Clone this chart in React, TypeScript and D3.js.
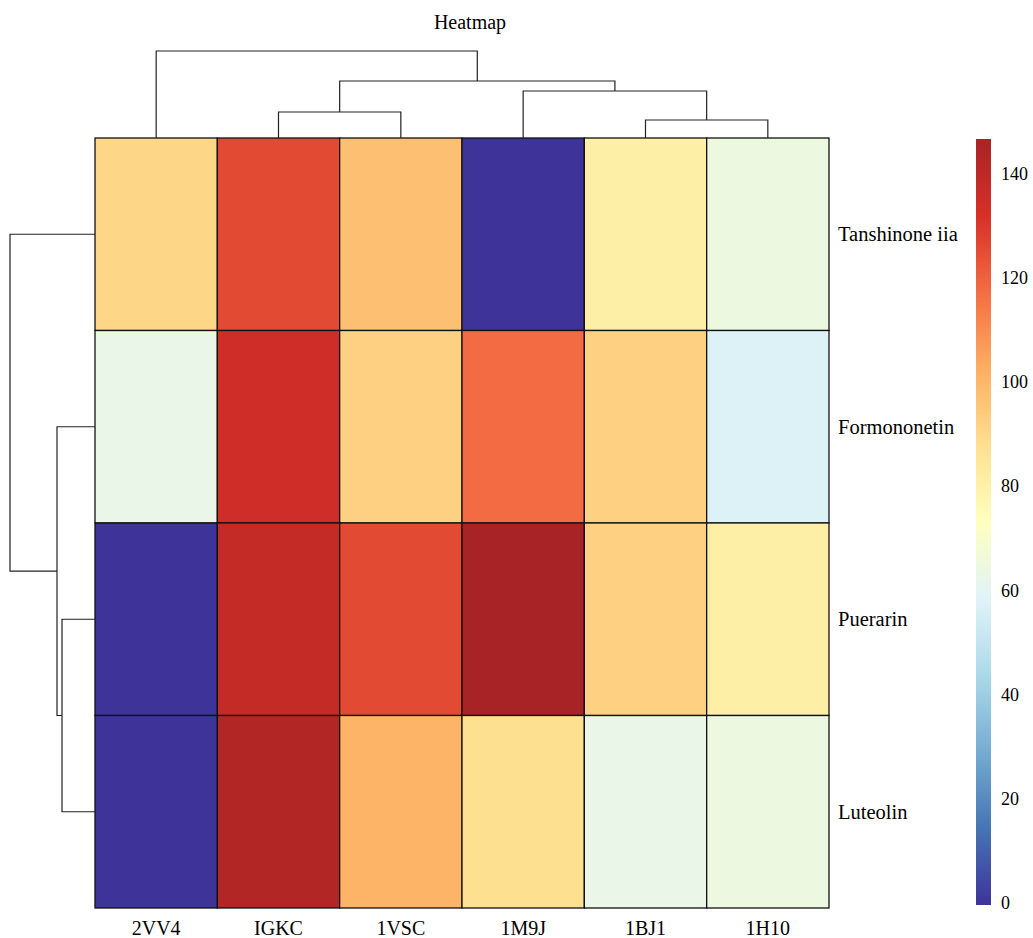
import React, { useEffect, useRef } from 'react';
import * as d3 from 'd3';

const columns = ['2VV4', 'IGKC', '1VSC', '1M9J', '1BJ1', '1H10'];
const rows = ['Tanshinone iia', 'Formononetin', 'Puerarin', 'Luteolin'];

// values by row, in column order
const tanshinone = [91, 126, 98, 0, 81, 65];
const formononetin = [63, 135, 93, 118, 93, 58];
const puerarin = [0, 138, 126, 147, 93, 81];
const luteolin = [0, 144, 101, 88, 63, 65];
const values = [tanshinone, formononetin, puerarin, luteolin];

const colorTicks = [0, 20, 40, 60, 80, 100, 120, 140];
const palette = ['#3e3399', '#4575b4', '#74add1', '#abd9e9', '#e0f3f8', '#ffffbf',
  '#fee090', '#fdae61', '#f46d43', '#d73027', '#a82325'];

interface TreeNode {
  name?: string;
  h: number;
  children?: TreeNode[];
}

// clustering trees (merge heights)
const colTree: TreeNode = {
  h: 87,
  children: [
    { name: '2VV4', h: 0 },
    {
      h: 57,
      children: [
        { h: 26, children: [{ name: 'IGKC', h: 0 }, { name: '1VSC', h: 0 }] },
        {
          h: 47,
          children: [
            { name: '1M9J', h: 0 },
            { h: 18, children: [{ name: '1BJ1', h: 0 }, { name: '1H10', h: 0 }] },
          ],
        },
      ],
    },
  ],
};

const rowTree: TreeNode = {
  h: 85,
  children: [
    { name: 'Tanshinone iia', h: 0 },
    {
      h: 38,
      children: [
        { name: 'Formononetin', h: 0 },
        { h: 33, children: [{ name: 'Puerarin', h: 0 }, { name: 'Luteolin', h: 0 }] },
      ],
    },
  ],
};

const App: React.FC = () => {
  const svgRef = useRef<SVGSVGElement>(null);

  useEffect(() => {
    if (!svgRef.current) return;
    const W = 1033, H = 938;
    const left = 95, right = 829, top = 138, bottom = 908;
    const font = '"Liberation Serif", "DejaVu Serif", serif';
    const vmax = 147;

    const svg = d3.select(svgRef.current);
    svg.selectAll('*').remove();
    svg.attr('width', W).attr('height', H);

    const x = d3.scaleBand<string>().domain(columns).range([left, right]);
    const y = d3.scaleBand<string>().domain(rows).range([top, bottom]);
    const color = d3.scaleLinear<string>()
      .domain(palette.map((_, i) => (i / (palette.length - 1)) * vmax))
      .range(palette)
      .interpolate(d3.interpolateRgb);

    svg.append('text')
      .attr('x', 470).attr('y', 29)
      .attr('text-anchor', 'middle')
      .attr('font-family', font).attr('font-size', 20)
      .text('Heatmap');

    // cells
    const cells = rows.flatMap((r, i) => columns.map((c, j) => ({ r, c, v: values[i][j] })));
    svg.append('g').selectAll('rect').data(cells).join('rect')
      .attr('x', d => x(d.c)!)
      .attr('y', d => y(d.r)!)
      .attr('width', x.bandwidth())
      .attr('height', y.bandwidth())
      .attr('fill', d => color(d.v))
      .attr('stroke', '#111')
      .attr('stroke-width', 1.3);

    // dendrograms
    const drawTree = (tree: TreeNode, pos: (n: string) => number, hs: d3.ScaleLinear<number, number>, vertical: boolean) => {
      const root = d3.hierarchy<TreeNode>(tree, d => d.children);
      const p = new Map<any, number>();
      root.eachAfter(n => {
        if (n.children) p.set(n, d3.mean(n.children, c => p.get(c)!)!);
        else p.set(n, pos(n.data.name!));
      });
      const g = svg.append('g').attr('fill', 'none').attr('stroke', '#222').attr('stroke-width', 1.2);
      root.each(n => {
        if (!n.children) return;
        const [a, b] = n.children;
        const pa = p.get(a)!, pb = p.get(b)!;
        const ha = hs(a.data.h), hb = hs(b.data.h), hn = hs(n.data.h);
        const d = vertical
          ? `M${pa},${ha}V${hn}H${pb}V${hb}`
          : `M${ha},${pa}H${hn}V${pb}H${hb}`;
        g.append('path').attr('d', d);
      });
    };
    drawTree(colTree, n => x(n)! + x.bandwidth() / 2, d3.scaleLinear().domain([0, 87]).range([top, 51]), true);
    drawTree(rowTree, n => y(n)! + y.bandwidth() / 2, d3.scaleLinear().domain([0, 85]).range([left, 10]), false);

    // labels
    svg.append('g').selectAll('text').data(columns).join('text')
      .attr('x', d => x(d)! + x.bandwidth() / 2)
      .attr('y', 935)
      .attr('text-anchor', 'middle')
      .attr('font-family', font).attr('font-size', 20)
      .text(d => d);
    svg.append('g').selectAll('text').data(rows).join('text')
      .attr('x', 838)
      .attr('y', d => y(d)! + y.bandwidth() / 2)
      .attr('dy', '0.35em')
      .attr('font-family', font).attr('font-size', 20.5)
      .text(d => d);

    // colour bar
    const cy = d3.scaleLinear().domain([0, vmax]).range([bottom - 3, 139]);
    const defs = svg.append('defs');
    const grad = defs.append('linearGradient').attr('id', 'cbar')
      .attr('x1', 0).attr('x2', 0).attr('y1', 1).attr('y2', 0);
    d3.range(0, 1.0001, 0.05).forEach(t => {
      grad.append('stop').attr('offset', t).attr('stop-color', color(t * vmax));
    });
    svg.append('rect')
      .attr('x', 976).attr('y', cy(vmax))
      .attr('width', 15).attr('height', cy(0) - cy(vmax))
      .attr('fill', 'url(#cbar)');
    svg.append('g').selectAll('text').data(colorTicks).join('text')
      .attr('x', 1001)
      .attr('y', d => cy(d) - 2)
      .attr('dy', '0.35em')
      .attr('font-family', font).attr('font-size', 18)
      .text(d => d);
  }, []);

  return (
    <div style={{ position: 'absolute', left: 0, top: 0, background: '#fff' }}>
      <svg ref={svgRef}></svg>
    </div>
  );
};

export default App;
